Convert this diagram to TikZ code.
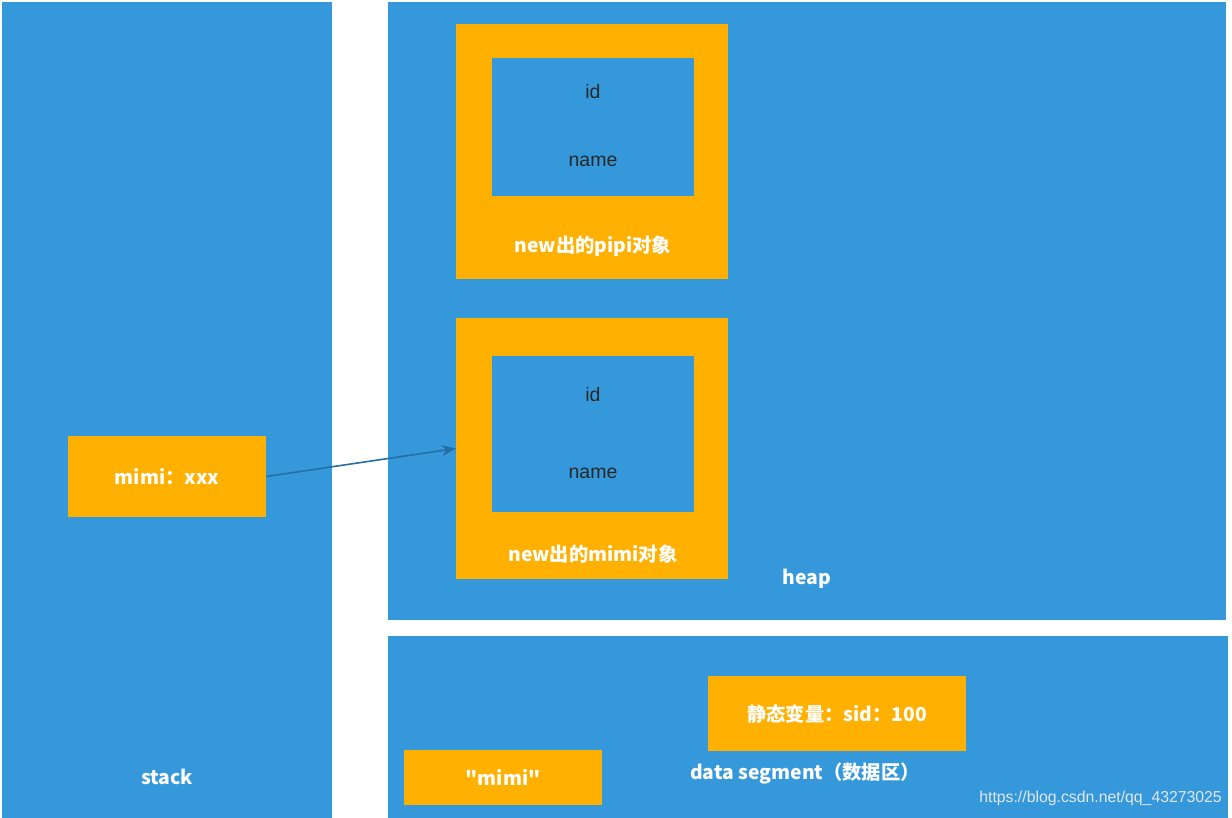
\documentclass[tikz,border=0pt]{standalone}
\usepackage{fontspec}
\setmainfont{Noto Sans CJK SC}[Ligatures=TeXOff]
\newfontfamily\latinsans{Liberation Sans}
\usetikzlibrary{arrows.meta}
\definecolor{memblue}{RGB}{53,152,219}
\definecolor{objorange}{RGB}{255,176,0}
\definecolor{arrowblue}{RGB}{38,110,165}
\definecolor{darktext}{RGB}{40,40,40}
\definecolor{wmark}{RGB}{225,232,240}
\tikzset{
  region/.style={fill=memblue, draw=none, inner sep=0pt, rectangle},
  objbox/.style={fill=objorange, draw=none, inner sep=0pt, rectangle},
  fieldbox/.style={fill=memblue, draw=none, inner sep=0pt, rectangle},
  whitelabel/.style={text=white, font=\bfseries\fontsize{19.3}{21}\selectfont, inner sep=0pt},
  fieldlabel/.style={text=darktext, font=\latinsans\fontsize{19.5}{21}\selectfont, inner sep=0pt},
  pointer/.style={draw=arrowblue, line width=1.6pt, -{Stealth[length=14pt,width=11pt]}}
}
\begin{document}
\begin{tikzpicture}[x=1pt,y=-1pt]
\useasboundingbox (0,0) rectangle (1232,818);
\fill[white] (0,0) rectangle (1232,818);
% regions
\node[region, minimum width=330pt, minimum height=816pt] (stack) at (167,410) {};
\node[region, minimum width=838pt, minimum height=618pt] (heap) at (807,311) {};
\node[region, minimum width=840pt, minimum height=182pt] (data) at (808,727) {};
% pipi object
\node[objbox, minimum width=272pt, minimum height=255pt] (pipi) at (592,151.5) {};
\node[fieldbox, minimum width=202pt, minimum height=138pt] (pipiin) at (593,127) {};
\node[fieldlabel] (pipiid) at (593,92) {id};
\node[fieldlabel] (pipiname) at (593,161) {name};
\node[whitelabel] (pipilbl) at (593,246) {new出的pipi对象};
% mimi object
\node[objbox, minimum width=272pt, minimum height=261pt] (mimiobj) at (592,448.5) {};
\node[fieldbox, minimum width=202pt, minimum height=156pt] (mimiin) at (593,434) {};
\node[fieldlabel] (mimiid) at (593,395) {id};
\node[fieldlabel] (miminame) at (593,473) {name};
\node[whitelabel] (mimilbl) at (593,554) {new出的mimi对象};
% stack variable
\node[objbox, minimum width=198pt, minimum height=81pt] (mimivar) at (167,476.5) {};
\node[whitelabel] (mimivarlbl) at (167,477) {mimi：xxx};
% data segment contents
\node[objbox, minimum width=258pt, minimum height=75pt] (static) at (837,713.5) {};
\node[whitelabel] (staticlbl) at (837,714) {静态变量：sid：100};
\node[objbox, minimum width=198pt, minimum height=55pt] (strbox) at (503,777.5) {};
\node[whitelabel] (strlbl) at (503,777) {"mimi"};
% region labels
\node[whitelabel] (stacklbl) at (167,777) {stack};
\node[whitelabel] (heaplbl) at (807,579) {heap};
\node[whitelabel] (datalbl) at (805,773) {data segment（数据区）};
\node[text=wmark, font=\latinsans\fontsize{15.8}{17}\selectfont, inner sep=0pt, anchor=east] (wm) at (1222,798) {https://blog.csdn.net/qq\_43273025};
% pointer
\draw[pointer] (mimivar.east) -- (mimiobj.west);
\end{tikzpicture}
\end{document}
